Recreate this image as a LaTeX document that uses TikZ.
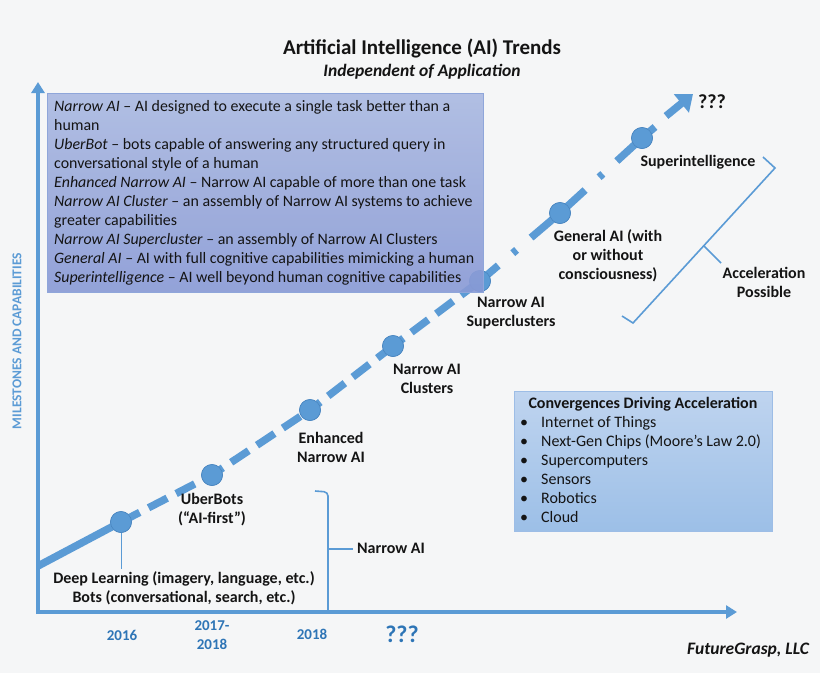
\documentclass[tikz,border=0pt]{standalone}
\usepackage{fontspec}
\setmainfont{Carlito}
\usetikzlibrary{arrows.meta,calc}
\definecolor{bg}{HTML}{F5F6F7}
\definecolor{axblue}{HTML}{5B9BD5}
\definecolor{dotedge}{HTML}{4A86C0}
\definecolor{yearblue}{HTML}{2E75B6}
\definecolor{ink}{HTML}{141414}
\definecolor{defTop}{HTML}{AAB9E1}
\definecolor{defBot}{HTML}{8899D5}
\definecolor{defEdge}{HTML}{8FA6DA}
\definecolor{convTop}{HTML}{BFD4EF}
\definecolor{convBot}{HTML}{9CBFE7}
\definecolor{convEdge}{HTML}{9DBDE6}
\tikzset{
  axisline/.style={draw=axblue,line width=4pt,-{Triangle[width=13pt,length=11pt]}},
  trend/.style={draw=axblue,line width=7.5pt,line cap=butt},
  milestone/.style={circle,fill=axblue,draw=dotedge,line width=0.6pt,minimum size=21pt,inner sep=0pt},
  lbl/.style={font=\fontsize{16}{19}\selectfont\bfseries,text=ink,align=center,inner sep=0pt},
  year/.style={font=\fontsize{15}{19}\selectfont\bfseries,text=yearblue,align=center,inner sep=0pt},
  bracketline/.style={draw=axblue,line width=1.6pt},
}
\begin{document}
\begin{tikzpicture}[x=1pt,y=-1pt]
\useasboundingbox (0,0) rectangle (820,673);
\fill[bg] (0,0) rectangle (820,673);

% title
\node[font=\fontsize{21}{24}\selectfont\bfseries,text=ink,inner sep=0pt] (title) at (422,48) {Artificial Intelligence (AI) Trends};
\node[font=\fontsize{17.5}{20}\selectfont\bfseries\itshape,text=ink,inner sep=0pt] (subtitle) at (422,72) {Independent of Application};

% axes
\coordinate (origin) at (38,612);
\coordinate (ytip) at (38,82);
\coordinate (xtip) at (737,612);
\draw[axisline] ($(origin)+(0,2)$) -- (ytip);
\draw[axisline] ($(origin)+(-2,0)$) -- (xtip);
\node[rotate=90,font=\fontsize{13.5}{16}\selectfont\bfseries,text=axblue,inner sep=0pt] (ylab) at (17,341) {MILESTONES AND CAPABILITIES};

% milestones
\coordinate (start) at (38,566);
\node[milestone] (d1) at (121,522) {};
\node[milestone] (d2) at (212,475) {};
\node[milestone] (d3) at (310,410) {};
\node[milestone] (d4) at (393,346) {};
\node[milestone] (d5) at (480,281) {};
\node[milestone] (d6) at (560,213) {};
\node[milestone] (d7) at (642,138) {};
\coordinate (d7end) at (655,127);
\coordinate (arrstart) at (666,116);
\coordinate (arrtip) at (693,94);

\draw[trend] (start) -- (d1.center);
\draw[trend,dash pattern=on 21pt off 10pt] (d1.center) -- (d2.center);
\draw[trend,dash pattern=on 21pt off 10pt,dash phase=8pt] (d2.center) -- (d3.center);
\draw[trend,dash pattern=on 21pt off 10pt,dash phase=8pt] (d3.center) -- (d4.center);
\draw[trend,dash pattern=on 21pt off 10pt,dash phase=8pt] (d4.center) -- (d5.center);
\draw[trend,dash pattern=on 24pt off 19pt on 5pt off 19pt on 90pt off 0pt] (d5.center) -- (d6.center);
\draw[trend,dash pattern=on 34pt off 19pt on 5pt off 19pt on 90pt off 0pt] (d6.center) -- (d7.center);
\draw[trend] (d7.center) -- (d7end);
\draw[draw=axblue,line width=7.5pt,-{Triangle[width=23pt,length=15pt]}] (arrstart) -- (arrtip);
\foreach \n in {d1,d2,d3,d4,d5,d6,d7} \node[milestone] at (\n) {};

% definitions box
\node[inner sep=0pt,minimum width=436pt,minimum height=199pt,anchor=north west,
      top color=defTop,bottom color=defBot,draw=defEdge,line width=0.8pt,fill opacity=0.9] (defs) at (47,93) {};
\node[anchor=north west,inner sep=0pt,align=left,text=ink,font=\fontsize{15.9}{19}\selectfont] (deftext) at (54,100.5)
{\textit{Narrow AI} -- AI designed to execute a single task better than a\\
human\\
\textit{UberBot} -- bots capable of answering any structured query in\\
conversational style of a human\\
\textit{Enhanced Narrow AI} -- Narrow AI capable of more than one task\\
\textit{Narrow AI Cluster} -- an assembly of Narrow AI systems to achieve\\
greater capabilities\\
\textit{Narrow AI Supercluster} -- an assembly of Narrow AI Clusters\\
\textit{General AI} -- AI with full cognitive capabilities mimicking a human\\
\textit{Superintelligence} -- AI well beyond human cognitive capabilities};

% milestone labels
\node[lbl] (l2) at (212,509.5) {UberBots\\(“AI-first”)};
\node[lbl] (l3) at (331,447.5) {Enhanced\\Narrow AI};
\node[lbl] (l4) at (427,378.5) {Narrow AI\\Clusters};
\node[lbl] (l5) at (511,313.5) {Narrow AI\\Superclusters};
\node[lbl] (l6) at (608,256) {General AI (with\\or without\\consciousness)};
\node[lbl] (l7) at (698,162) {Superintelligence};
\node[lbl,font=\fontsize{20}{22}\selectfont\bfseries] (q1) at (712,102) {???};
\node[lbl] (dl) at (184,588.5) {Deep Learning (imagery, language, etc.)\\Bots (conversational, search, etc.)};
\draw[draw=axblue,line width=1pt] (d1.south) -- ($(dl.north)+(-63,-3)$);

% narrow AI bracket
\coordinate (nb1) at (315,491);
\coordinate (nb2) at (328,611);
\coordinate (nbmid) at (328,549);
\draw[bracketline,rounded corners=4pt] (nb1) -- (328,492) -- (nb2);
\node[lbl,anchor=west] (nai) at (357,548.5) {Narrow AI};
\draw[bracketline] (nbmid) -- ($(nai.west)+(-4,0.5)$);

% acceleration bracket
\coordinate (ab1) at (763,157);
\coordinate (ab2) at (775,168);
\coordinate (ab3) at (633,323);
\coordinate (ab4) at (622,316);
\coordinate (abmid) at (704,246);
\draw[bracketline] (ab1) -- (ab2) -- (ab3) -- (ab4);
\node[lbl] (acc) at (764,282.5) {Acceleration\\Possible};
\draw[bracketline] (abmid) -- (721,263);

% convergences box
\node[inner sep=0pt,minimum width=258pt,minimum height=140pt,anchor=north west,
      top color=convTop,bottom color=convBot,draw=convEdge,line width=0.8pt] (conv) at (514,391) {};
\node[font=\fontsize{16}{19}\selectfont\bfseries,text=ink,inner sep=0pt] (convtitle) at (643,404) {Convergences Driving Acceleration};
\node[anchor=north west,inner sep=0pt,align=left,text=ink,font=\fontsize{16}{19}\selectfont] (convlist) at (520,416.5)
{\makebox[21pt][l]{\textbullet}Internet of Things\\
\makebox[21pt][l]{\textbullet}Next-Gen Chips (Moore’s Law 2.0)\\
\makebox[21pt][l]{\textbullet}Supercomputers\\
\makebox[21pt][l]{\textbullet}Sensors\\
\makebox[21pt][l]{\textbullet}Robotics\\
\makebox[21pt][l]{\textbullet}Cloud};

% years
\node[year] (y1) at (122,635) {2016};
\node[year] (y2) at (212,635) {2017-\\2018};
\node[year] (y3) at (312,634) {2018};
\node[year,font=\fontsize{24}{26}\selectfont\bfseries] (y4) at (402,634) {???};

\node[font=\fontsize{17.5}{20}\selectfont\bfseries\itshape,text=ink,inner sep=0pt] (credit) at (748,650) {FutureGrasp, LLC};
\end{tikzpicture}
\end{document}
